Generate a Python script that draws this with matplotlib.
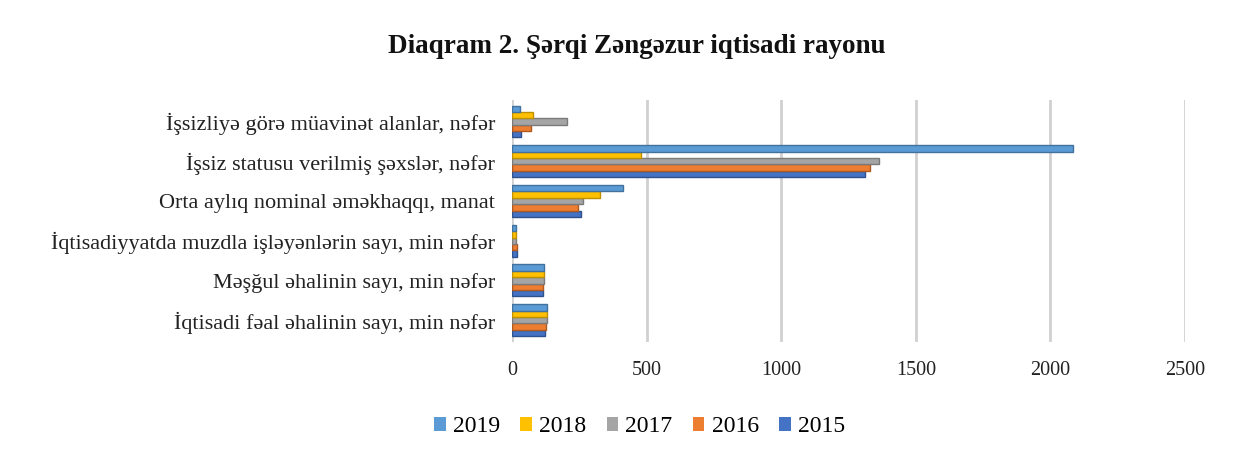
import matplotlib.pyplot as plt
import numpy as np

categories = [
    "İqtisadi fəal əhalinin sayı, min nəfər",
    "Məşğul əhalinin sayı, min nəfər",
    "İqtisadiyyatda muzdla işləyənlərin sayı, min nəfər",
    "Orta aylıq nominal əməkhaqqı, manat",
    "İşsiz statusu verilmiş şəxslər, nəfər",
    "İşsizliyə görə müavinət alanlar, nəfər",
]
years = ["2015", "2016", "2017", "2018", "2019"]
v2015 = [124, 115, 19, 256, 1310, 33]
v2016 = [127, 116, 18, 245, 1330, 70]
v2017 = [130, 119, 16, 263, 1365, 205]
v2018 = [130, 119, 15, 327, 480, 78]
v2019 = [130, 119, 15, 412, 2085, 30]
series = [v2015, v2016, v2017, v2018, v2019]
colors = ["#4472C4", "#ED7D31", "#A5A5A5", "#FFC000", "#5B9BD5"]
edges = ["#2F528F", "#AE5A21", "#7B7B7B", "#BF9000", "#41719C"]

plt.rcParams["font.family"] = ["Liberation Serif", "DejaVu Serif"]

fig = plt.figure(figsize=(12.59, 4.62), dpi=100)
ax = fig.add_axes([0.4067, 0.26, 0.5345, 0.524])

y = np.arange(len(categories))
h = 0.16
for i, (vals, c, ec, yr) in enumerate(zip(series, colors, edges, years)):
    ax.barh(y + (i - 2) * h, vals, height=h, color=c, edgecolor=ec,
            linewidth=1.0, label=yr, zorder=3)

ax.set_xlim(0, 2500)
ax.set_ylim(-0.55, 5.55)
ax.set_xticks([0, 500, 1000, 1500, 2000, 2500])
ax.set_yticks(y)
ax.set_yticklabels(categories, fontsize=16, color="#222222")
ax.tick_params(axis="x", labelsize=14.5, colors="#222222", length=0, pad=14)
ax.tick_params(axis="y", length=0, pad=12)
ax.grid(axis="x", color="#D0D0D0", linewidth=2, zorder=0)
for s in ax.spines.values():
    s.set_visible(False)

fig.text(0.5056, 0.9, "Diaqram 2. Şərqi Zəngəzur iqtisadi rayonu",
         ha="center", va="center", fontsize=19.5, fontweight="bold",
         color="#111111")

handles, labels = ax.get_legend_handles_labels()
leg = fig.legend(handles[::-1], labels[::-1], loc="center",
                 bbox_to_anchor=(0.508, 0.076), ncol=5, frameon=False,
                 fontsize=17, handlelength=0.5, handleheight=0.5,
                 columnspacing=0.85, handletextpad=0.3)
for p in leg.get_patches():
    p.set_edgecolor("none")

fig.savefig("out.png", dpi=100)
